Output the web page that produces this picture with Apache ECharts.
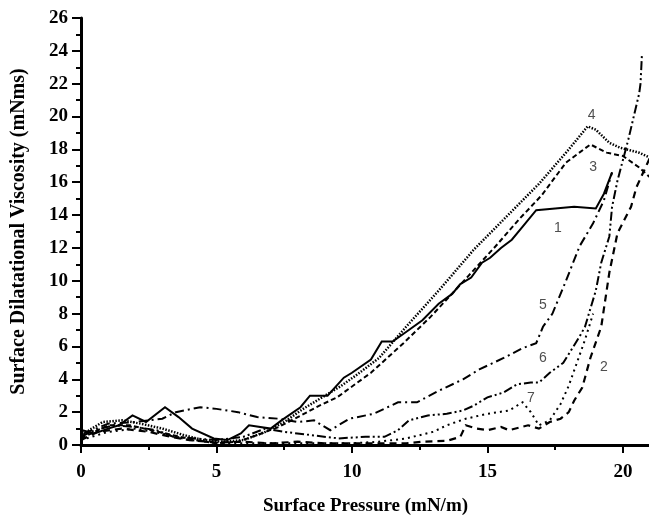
<!DOCTYPE html>
<html><head><meta charset="utf-8">
<script src="https://cdn.jsdelivr.net/npm/echarts@6/dist/echarts.min.js"></script>
<style>html,body{margin:0;padding:0;background:#fff}#c{width:649px;height:519px}</style>
</head><body><div id="c"></div>
<script>
// Curve 1 (solid)
const x1 = [0, 0.05, 0.5, 1.0, 1.4, 1.9, 2.4, 3.1, 3.6, 4.1, 4.9, 5.4, 5.9, 6.2, 7.0, 7.4, 8.1, 8.45, 9.1, 9.7, 10.0, 10.7, 11.1, 11.5, 12.1, 12.6, 13.2, 13.7, 14.0, 14.4, 14.8, 15.1, 15.5, 15.9, 16.3, 16.8, 17.5, 18.2, 19.0, 19.3, 19.6];
const y1 = [0, 0.9, 0.7, 1.0, 1.2, 1.8, 1.4, 2.3, 1.7, 1.0, 0.4, 0.3, 0.7, 1.2, 1.0, 1.5, 2.3, 3.0, 3.0, 4.1, 4.4, 5.2, 6.3, 6.3, 7.0, 7.6, 8.6, 9.2, 9.8, 10.2, 11.1, 11.4, 12.0, 12.5, 13.3, 14.3, 14.4, 14.5, 14.4, 15.3, 16.6];
// Curve 2 (dashed)
const x2 = [0, 0.6, 1.5, 2.5, 3.3, 4.0, 5.0, 6.0, 7.0, 8.0, 9.0, 10.0, 11.0, 12.0, 12.6, 13.5, 14.0, 14.2, 14.6, 15.0, 15.5, 15.8, 16.5, 16.9, 17.3, 17.7, 18.0, 18.2, 18.5, 18.8, 19.2, 19.5, 19.8, 20.3, 20.5, 21.0];
const y2 = [0.3, 0.8, 1.0, 0.8, 0.5, 0.3, 0.15, 0.2, 0.1, 0.2, 0.1, 0.1, 0.1, 0.1, 0.2, 0.25, 0.5, 1.2, 1.0, 0.9, 1.1, 0.9, 1.2, 1.0, 1.4, 1.6, 2.0, 2.7, 3.5, 5.3, 7.2, 10.5, 12.9, 14.5, 15.7, 17.5];
// Curve 3 (short dashes)
const x3 = [0, 0.5, 1.0, 1.8, 2.6, 3.4, 4.2, 5.0, 5.8, 6.5, 7.3, 8.0, 8.8, 9.45, 10.7, 11.9, 12.9, 14.3, 15.3, 16.2, 17.0, 17.9, 18.8, 19.4, 20.0, 20.6, 21.0];
const y3 = [0.4, 0.8, 1.2, 1.2, 0.9, 0.6, 0.3, 0.1, 0.2, 0.6, 1.1, 1.7, 2.4, 2.9, 4.4, 6.2, 7.8, 10.3, 12.1, 13.8, 15.2, 17.2, 18.3, 17.8, 17.6, 16.9, 16.3];
// Curve 4 (dotted)
const x4 = [0, 0.3, 0.8, 1.5, 2.2, 3.0, 3.8, 4.5, 5.2, 6.0, 6.8, 7.5, 8.2, 9.0, 9.6, 10.2, 11.0, 12.0, 13.2, 14.5, 15.7, 16.9, 17.9, 18.4, 18.7, 19.0, 19.5, 19.9, 20.6, 21.0];
const y4 = [0.5, 0.9, 1.4, 1.5, 1.3, 1.0, 0.6, 0.3, 0.2, 0.3, 0.8, 1.4, 2.2, 3.0, 3.6, 4.3, 5.3, 7.2, 9.4, 11.9, 13.9, 15.9, 17.8, 18.8, 19.4, 19.2, 18.4, 18.1, 17.8, 17.5];
// Curve 5 (dash-dot)
const x5 = [0.1, 1.0, 2.0, 3.0, 3.5, 4.4, 5.0, 5.8, 6.5, 7.3, 8.0, 8.6, 9.2, 9.9, 10.8, 11.7, 12.4, 13.2, 14.1, 14.7, 15.6, 16.3, 16.8, 17.05, 17.4, 17.9, 18.4, 18.9, 19.3, 19.6];
const y5 = [0.7, 1.3, 1.4, 1.6, 2.0, 2.3, 2.2, 2.0, 1.7, 1.6, 1.4, 1.5, 0.9, 1.6, 1.9, 2.6, 2.6, 3.3, 4.0, 4.6, 5.3, 5.9, 6.2, 7.2, 8.0, 10.0, 12.1, 13.5, 14.9, 16.6];
// Curve 6 (dash-dot-dot)
const x6 = [0, 0.5, 1.2, 2.0, 2.8, 3.4, 4.2, 5.0, 6.0, 6.8, 7.5, 8.5, 9.5, 10.5, 11.2, 11.7, 12.1, 12.8, 13.5, 14.1, 14.5, 15.0, 15.6, 16.1, 16.6, 16.9, 17.3, 17.8, 18.1, 18.4, 18.6, 19.0, 19.2, 19.5, 19.6, 19.8, 20.2, 20.6, 20.65, 20.7];
const y6 = [0.5, 0.9, 1.2, 1.1, 0.9, 0.5, 0.4, 0.3, 0.5, 1.0, 0.8, 0.6, 0.4, 0.5, 0.5, 0.9, 1.5, 1.8, 1.9, 2.1, 2.4, 2.9, 3.2, 3.7, 3.8, 3.8, 4.4, 5.0, 5.8, 6.6, 7.2, 9.4, 11.1, 12.7, 14.5, 16.1, 18.6, 21.4, 22.0, 23.7];
// Curve 7 (dotted, sparse)
const x7 = [0, 1.0, 2.0, 3.0, 4.0, 5.0, 6.0, 8.0, 10.0, 11.0, 12.0, 13.0, 13.5, 14.2, 15.0, 15.8, 16.3, 16.6, 16.9, 17.3, 17.7, 18.0, 18.3, 18.6, 18.9];
const y7 = [0.3, 0.8, 1.0, 0.7, 0.3, 0.15, 0.1, 0.1, 0.1, 0.2, 0.4, 0.8, 1.2, 1.6, 1.9, 2.1, 2.6, 2.0, 1.2, 1.5, 2.5, 3.6, 5.0, 6.4, 8.0];
// Curve labels
const labelText = ['1', '2', '3', '4', '5', '6', '7'];
const labelX = [17.6, 19.3, 18.9, 18.85, 17.05, 17.05, 16.6];
const labelY = [13.2, 4.75, 16.9, 20.1, 8.5, 5.3, 2.85];
// Axis
const xTicks = [0, 5, 10, 15, 20];
const yMax = 26;

const curves = [
  {x: x1, y: y1, type: 'solid', w: 2},
  {x: x2, y: y2, type: [7, 5], w: 2.2},
  {x: x3, y: y3, type: [5, 3], w: 2},
  {x: x4, y: y4, type: [1.5, 1.5], w: 2.5},
  {x: x5, y: y5, type: [9, 4, 2, 4], w: 2},
  {x: x6, y: y6, type: [9, 3, 2, 3, 2, 3], w: 2},
  {x: x7, y: y7, type: [2, 4], w: 2}
];
const series = curves.map((c, k) => ({
  type: 'line', name: String(k + 1), symbol: 'none', silent: true, animation: false,
  data: c.x.map((v, i) => [v, c.y[i]]),
  lineStyle: {color: '#000', width: c.w, type: c.type, cap: 'butt', join: 'miter'}
}));
series.push({
  type: 'scatter', symbolSize: 0, silent: true, animation: false,
  data: labelText.map((t, i) => ({value: [labelX[i], labelY[i]], name: t})),
  label: {show: true, position: 'inside', formatter: p => p.name,
    fontFamily: 'Liberation Sans, Arial, sans-serif', fontSize: 14, color: '#222'}
});

const serif = 'Liberation Serif, Times New Roman, serif';
const chart = echarts.init(document.getElementById('c'), null, {renderer: 'canvas'});
chart.setOption({
  backgroundColor: '#fff',
  animation: false,
  grid: {left: 81, top: 18, width: 569, height: 427, containLabel: false, outerBoundsMode: 'none'},
  xAxis: {
    type: 'value', min: xTicks[0], max: 21, interval: 5,
    name: 'Surface Pressure (mN/m)', nameLocation: 'middle', nameGap: 52,
    nameTextStyle: {fontFamily: serif, fontWeight: 'bold', fontSize: 19, color: '#000'},
    axisLine: {show: true, lineStyle: {color: '#000', width: 3}},
    axisTick: {show: true, inside: false, length: 8, lineStyle: {color: '#000', width: 2}},
    minorTick: {show: true, splitNumber: 2, length: 5, lineStyle: {color: '#000', width: 2}},
    splitLine: {show: false},
    axisLabel: {showMaxLabel: false, margin: 18, fontFamily: serif, fontWeight: 'bold', fontSize: 19, color: '#000'}
  },
  yAxis: {
    type: 'value', min: 0, max: yMax, interval: 2,
    name: 'Surface Dilatational Viscosity (mNms)', nameLocation: 'middle', nameGap: 52,
    nameTextStyle: {fontFamily: serif, fontWeight: 'bold', fontSize: 20, color: '#000'},
    axisLine: {show: true, lineStyle: {color: '#000', width: 3}},
    axisTick: {show: true, inside: false, length: 9, lineStyle: {color: '#000', width: 2}},
    minorTick: {show: true, splitNumber: 2, length: 5, lineStyle: {color: '#000', width: 2}},
    splitLine: {show: false},
    axisLabel: {margin: 13, fontFamily: serif, fontWeight: 'bold', fontSize: 19, color: '#000'}
  },
  series: series
});
</script></body></html>
